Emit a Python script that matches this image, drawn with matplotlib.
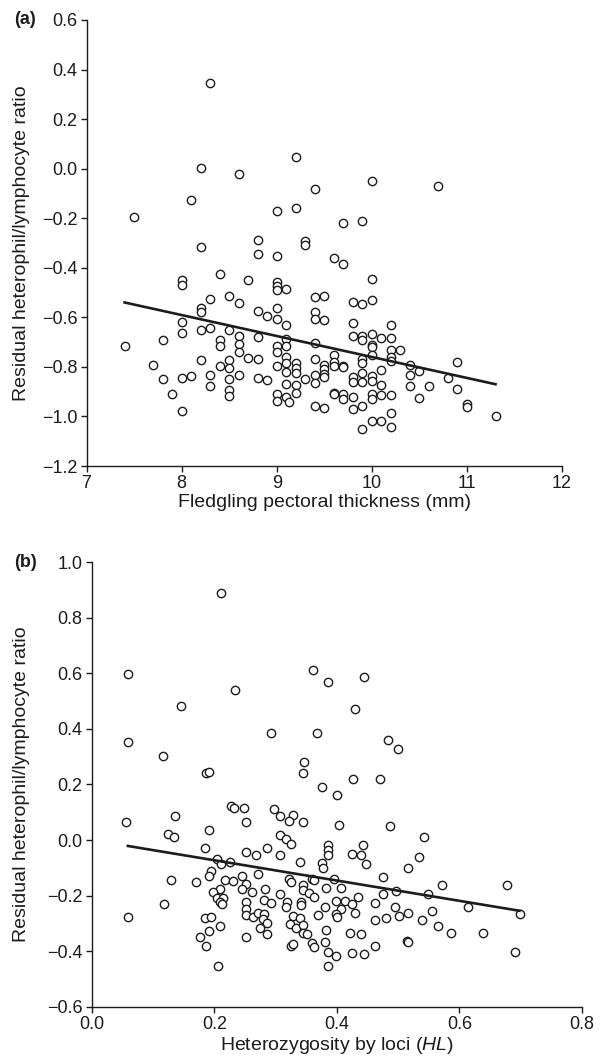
import matplotlib
matplotlib.use("Agg")
import matplotlib.pyplot as plt


# panel (a): fledgling pectoral thickness (mm) vs residual H/L ratio
pect_x = [
    8.3, 9.2, 8.2, 8.6, 9.4, 8.1, 7.5, 9.0, 9.2, 8.2,
    8.8, 9.3, 9.3, 8.8, 9.0, 10.0, 10.7, 9.7, 9.9,
    8.4, 8.0, 8.0, 8.7, 9.0, 9.0, 9.0, 9.1, 9.4, 9.5,
    8.3, 8.5, 8.6, 8.2, 8.2, 8.8, 8.9, 9.0, 9.0, 9.1,
    9.4, 9.4, 9.5, 8.0, 8.0, 8.2, 8.3, 8.5, 7.8, 7.4,
    8.4, 8.4, 8.6, 8.6, 8.6, 8.8, 9.0, 9.0, 9.1, 9.1,
    9.4, 7.7, 8.2, 8.5, 8.5, 8.4, 8.7, 8.8, 9.0, 9.1,
    9.1, 9.2, 9.2, 9.2, 9.1, 9.4, 9.5, 9.5, 9.5, 9.5,
    9.4, 9.3, 9.4, 7.8, 8.0, 8.1, 8.3, 8.6, 8.5, 8.8,
    8.9, 7.9, 8.3, 8.5, 8.5, 9.1, 9.2, 9.2, 9.0, 9.0,
    9.1, 9.13, 9.4, 9.5, 8.0,
    9.6, 9.7, 10.0, 9.8, 9.9, 10.0, 9.8, 10.2, 9.8, 9.9,
    9.9, 10.0, 10.1, 10.2, 10.0, 10.0, 10.2, 10.3, 9.6, 10.0,
    9.9, 9.9, 10.2, 10.2, 9.6, 9.6, 9.7, 9.7, 10.4, 10.9,
    10.1, 10.5, 9.8, 9.8, 9.9, 9.9, 10.0, 10.0, 10.4, 10.8,
    10.1, 10.4, 10.6, 10.9, 9.6, 9.6, 9.7, 9.7, 9.8, 10.0,
    10.0, 10.1, 10.2, 10.5, 9.8, 9.9, 11.0, 11.0, 11.3, 10.2,
    10.0, 10.1, 10.2, 9.9,
]
pect_y = [
    0.345, 0.048, 0.001, -0.021, -0.083, -0.125, -0.194, -0.172, -0.159, -0.316,
    -0.288, -0.291, -0.309, -0.344, -0.351, -0.050, -0.069, -0.218, -0.212,
    -0.426, -0.449, -0.468, -0.449, -0.456, -0.473, -0.490, -0.486, -0.519, -0.513,
    -0.526, -0.513, -0.543, -0.564, -0.580, -0.573, -0.595, -0.561, -0.607, -0.630,
    -0.578, -0.607, -0.612, -0.617, -0.663, -0.652, -0.642, -0.652, -0.693, -0.717,
    -0.691, -0.716, -0.675, -0.709, -0.739, -0.681, -0.716, -0.739, -0.689, -0.717,
    -0.705, -0.792, -0.773, -0.772, -0.803, -0.798, -0.763, -0.768, -0.798, -0.759,
    -0.783, -0.786, -0.806, -0.826, -0.820, -0.769, -0.792, -0.810, -0.829, -0.839,
    -0.833, -0.849, -0.866, -0.849, -0.843, -0.837, -0.833, -0.833, -0.849, -0.843,
    -0.854, -0.908, -0.877, -0.893, -0.917, -0.868, -0.873, -0.906, -0.909, -0.936,
    -0.923, -0.943, -0.958, -0.965, -0.977,
    -0.362, -0.386, -0.444, -0.537, -0.547, -0.531, -0.623, -0.630, -0.677, -0.675,
    -0.691, -0.668, -0.682, -0.682, -0.712, -0.721, -0.732, -0.732, -0.752, -0.752,
    -0.769, -0.783, -0.761, -0.776, -0.779, -0.796, -0.796, -0.801, -0.792, -0.780,
    -0.814, -0.815, -0.842, -0.862, -0.826, -0.862, -0.837, -0.856, -0.833, -0.843,
    -0.873, -0.877, -0.877, -0.890, -0.904, -0.909, -0.909, -0.929, -0.920, -0.909,
    -0.929, -0.913, -0.913, -0.924, -0.968, -0.958, -0.951, -0.960, -0.998, -0.987,
    -1.018, -1.018, -1.041, -1.052,
]
pect_fit_x = [7.4, 11.3]
pect_fit_y = [-0.54, -0.87]

# panel (b): heterozygosity by loci (HL) vs residual H/L ratio
hl_x = [
    0.211, 0.059, 0.361, 0.386, 0.234, 0.145, 0.059, 0.293, 0.368, 0.117,
    0.347, 0.344, 0.187, 0.192, 0.375, 0.445, 0.429, 0.483, 0.500, 0.427,
    0.471, 0.401,
    0.228, 0.233, 0.249, 0.298, 0.307, 0.328, 0.322, 0.344, 0.251, 0.136,
    0.056, 0.192, 0.124, 0.134, 0.307, 0.317, 0.326, 0.185, 0.286, 0.251,
    0.268, 0.307, 0.204, 0.211, 0.225, 0.340, 0.194, 0.192, 0.129, 0.171,
    0.218, 0.230, 0.246, 0.272, 0.251, 0.246, 0.322, 0.326, 0.344, 0.359,
    0.363, 0.344, 0.354, 0.363, 0.209, 0.198, 0.262, 0.283, 0.307, 0.204,
    0.214, 0.209, 0.212, 0.118, 0.251, 0.251, 0.251, 0.281, 0.293, 0.319,
    0.317, 0.342, 0.342, 0.059, 0.185, 0.194, 0.264, 0.272, 0.281, 0.279,
    0.286, 0.275, 0.286, 0.328, 0.324, 0.340, 0.334, 0.344, 0.344, 0.352,
    0.370, 0.209, 0.192, 0.176, 0.187, 0.251, 0.326, 0.328, 0.359, 0.363,
    0.206,
    0.404, 0.487, 0.542, 0.385, 0.385, 0.385, 0.443, 0.424, 0.439, 0.448,
    0.534, 0.376, 0.378, 0.516, 0.476, 0.396, 0.572, 0.678, 0.383, 0.406,
    0.497, 0.476, 0.549, 0.434, 0.398, 0.413, 0.462, 0.424, 0.380, 0.406,
    0.495, 0.614, 0.556, 0.429, 0.516, 0.398, 0.401, 0.502, 0.699, 0.462,
    0.481, 0.539, 0.565, 0.383, 0.422, 0.439, 0.586, 0.639, 0.380, 0.514,
    0.516, 0.462, 0.385, 0.398, 0.424, 0.445, 0.690, 0.385,
]
hl_y = [
    0.890, 0.597, 0.612, 0.567, 0.539, 0.483, 0.353, 0.384, 0.384, 0.302,
    0.281, 0.241, 0.241, 0.246, 0.192, 0.586, 0.472, 0.359, 0.328, 0.220,
    0.220, 0.161,
    0.121, 0.115, 0.115, 0.111, 0.087, 0.092, 0.069, 0.064, 0.064, 0.086,
    0.064, 0.038, 0.023, 0.012, 0.020, 0.003, -0.013, -0.029, -0.029, -0.043,
    -0.053, -0.055, -0.069, -0.086, -0.080, -0.080, -0.111, -0.128, -0.142, -0.151,
    -0.142, -0.147, -0.128, -0.122, -0.158, -0.174, -0.141, -0.151, -0.160, -0.138,
    -0.143, -0.179, -0.191, -0.204, -0.176, -0.187, -0.187, -0.176, -0.195, -0.207,
    -0.207, -0.223, -0.231, -0.229, -0.223, -0.247, -0.269, -0.215, -0.225, -0.223,
    -0.239, -0.223, -0.232, -0.276, -0.281, -0.276, -0.276, -0.261, -0.267, -0.285,
    -0.297, -0.316, -0.337, -0.272, -0.303, -0.281, -0.317, -0.305, -0.335, -0.337,
    -0.271, -0.308, -0.328, -0.348, -0.379, -0.348, -0.379, -0.372, -0.371, -0.384,
    -0.451,
    0.055, 0.050, 0.013, -0.017, -0.035, -0.054, -0.017, -0.049, -0.054, -0.085,
    -0.059, -0.081, -0.101, -0.101, -0.132, -0.141, -0.162, -0.162, -0.173, -0.173,
    -0.183, -0.195, -0.194, -0.204, -0.219, -0.219, -0.225, -0.229, -0.239, -0.249,
    -0.240, -0.240, -0.256, -0.261, -0.261, -0.267, -0.277, -0.272, -0.267, -0.286,
    -0.281, -0.286, -0.308, -0.323, -0.334, -0.338, -0.334, -0.334, -0.365, -0.363,
    -0.365, -0.379, -0.401, -0.415, -0.406, -0.410, -0.401, -0.453,
]
hl_fit_x = [0.059, 0.698]
hl_fit_y = [-0.021, -0.254]

pect_xticks = [7, 8, 9, 10, 11, 12]
pect_yticks = [-1.2, -1.0, -0.8, -0.6, -0.4, -0.2, 0.0, 0.2, 0.4, 0.6]
hl_xticks = [0.0, 0.2, 0.4, 0.6, 0.8]
hl_yticks = [-0.6, -0.4, -0.2, 0.0, 0.2, 0.4, 0.6, 0.8, 1.0]

Y_LABEL = "Residual heterophil/lymphocyte ratio"
INK = "#1c1c1c"
FIG_W, FIG_H = 602, 1062


def style_axes(ax):
    for side in ["top", "right"]:
        ax.spines[side].set_visible(False)
    for side in ["left", "bottom"]:
        ax.spines[side].set_linewidth(1.0)
        ax.spines[side].set_color(INK)
    ax.tick_params(direction="out", length=4, width=1.0, colors=INK,
                   labelsize=13, pad=2.5)


def draw_panel(ax, x, y, fit_x, fit_y, xticks, yticks, xlabel):
    ax.scatter(x, y, s=36, facecolors="white", edgecolors=INK,
               linewidths=1.0, zorder=3, clip_on=False)
    ax.plot(fit_x, fit_y, color=INK, lw=1.9, zorder=4)
    ax.set_xlim(xticks[0], xticks[-1])
    ax.set_ylim(yticks[0], yticks[-1])
    ax.set_xticks(xticks)
    ax.set_yticks(yticks)
    ax.set_xlabel(xlabel, fontsize=14, color=INK, labelpad=1.5)
    ax.set_ylabel(Y_LABEL, fontsize=14, color=INK)
    style_axes(ax)


def main():
    plt.rcParams["font.family"] = ["Liberation Sans", "DejaVu Sans"]
    plt.rcParams["mathtext.fontset"] = "custom"
    plt.rcParams["mathtext.rm"] = "Liberation Sans"
    plt.rcParams["mathtext.it"] = "Liberation Sans:italic"

    fig = plt.figure(figsize=(FIG_W / 100, FIG_H / 100), dpi=100)

    ax_a = fig.add_axes([0.1437, 0.5612, 0.790, 0.420])
    draw_panel(ax_a, pect_x, pect_y, pect_fit_x, pect_fit_y,
               pect_xticks, pect_yticks,
               "Fledgling pectoral thickness (mm)")
    ax_a.yaxis.set_label_coords(-0.118, 0.5)

    ax_b = fig.add_axes([0.1523, 0.0518, 0.8145, 0.419])
    draw_panel(ax_b, hl_x, hl_y, hl_fit_x, hl_fit_y,
               hl_xticks, hl_yticks,
               r"Heterozygosity by loci ($\mathit{HL}$)")
    ax_b.yaxis.set_label_coords(-0.125, 0.5)

    # panel tags sit level with the top tick of each panel
    fig.text(14 / FIG_W, 0.5612 + 0.420, "(a)", fontsize=13,
             fontweight="bold", color=INK, ha="left", va="center")
    fig.text(14 / FIG_W, 0.0518 + 0.419, "(b)", fontsize=13,
             fontweight="bold", color=INK, ha="left", va="center")

    fig.savefig("out.png", dpi=100, facecolor="white")
    plt.close(fig)


if __name__ == "__main__":
    main()
